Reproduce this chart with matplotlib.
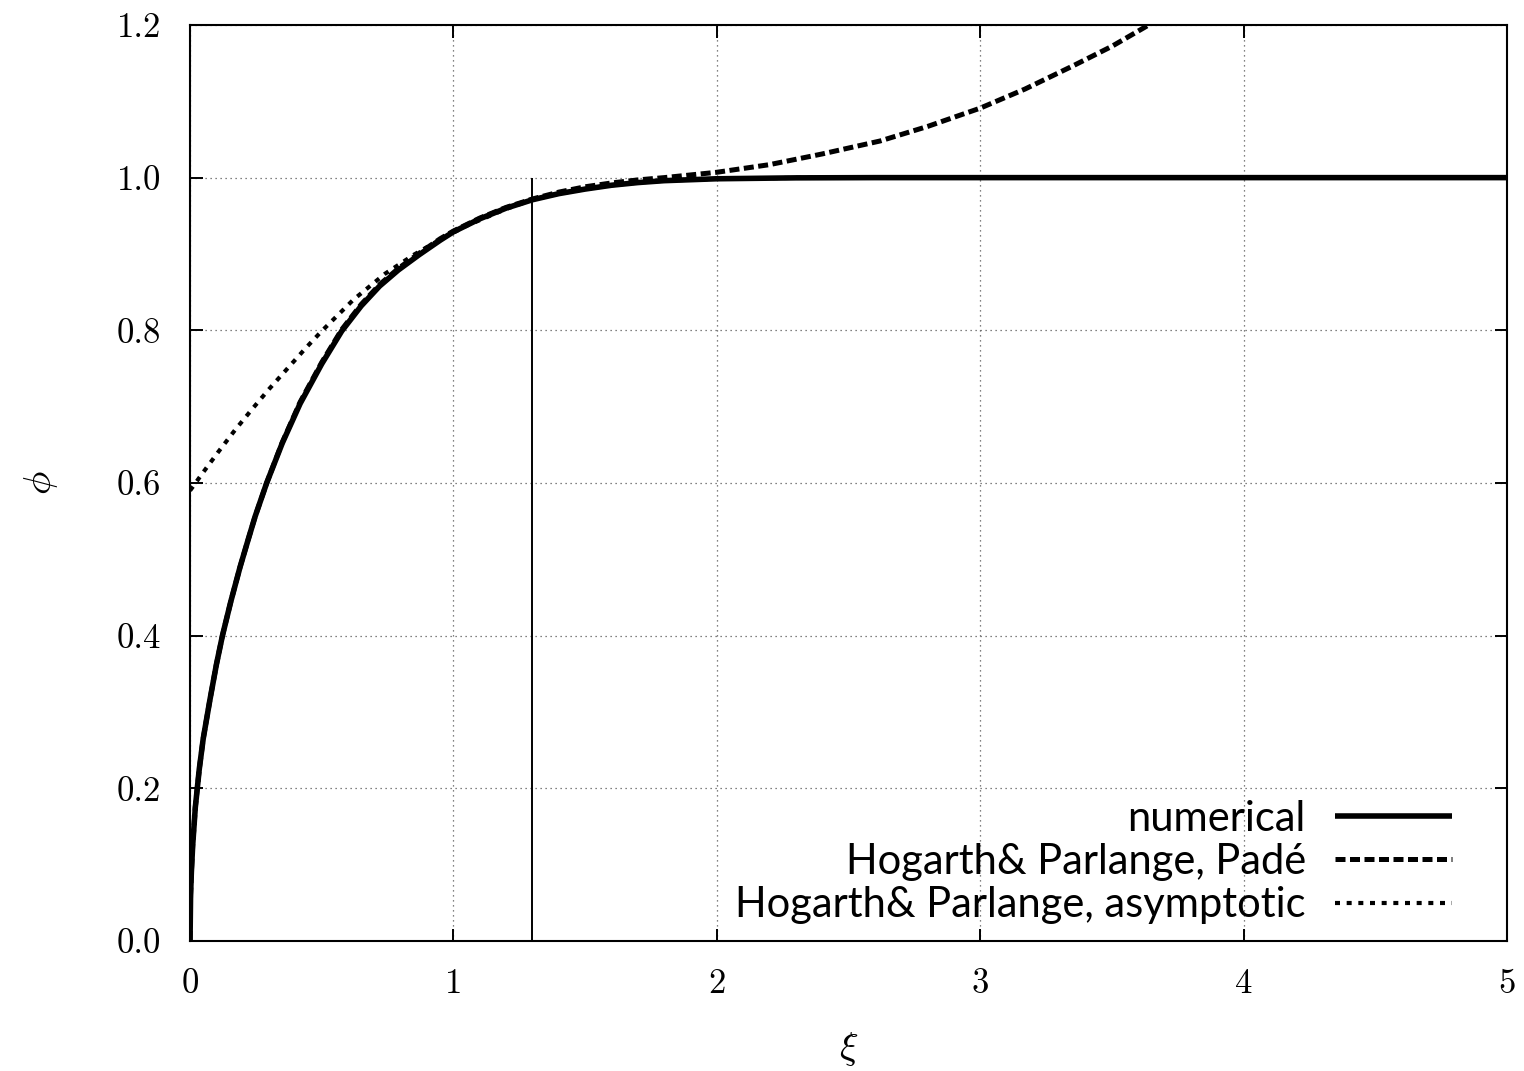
import matplotlib
matplotlib.use("Agg")
import matplotlib.pyplot as plt

# numerical solution
xi_num = [0.0, 0.002, 0.005, 0.01, 0.02, 0.035, 0.05, 0.075, 0.1, 0.123,
          0.155, 0.19, 0.22, 0.247, 0.291, 0.35, 0.418, 0.5, 0.576, 0.65,
          0.72, 0.791, 0.87, 0.95, 1.0, 1.1, 1.2, 1.3, 1.4, 1.5,
          1.6, 1.7, 1.8, 2.0, 2.3, 2.6, 5.0]
phi_num = [0.0, 0.06, 0.09, 0.125, 0.175, 0.225, 0.265, 0.315, 0.362, 0.4,
           0.445, 0.49, 0.525, 0.556, 0.6, 0.652, 0.704, 0.756, 0.799, 0.832,
           0.858, 0.879, 0.899, 0.918, 0.929, 0.946, 0.96, 0.971, 0.979, 0.985,
           0.99, 0.9935, 0.996, 0.9985, 0.9997, 1.0, 1.0]

# Hogarth & Parlange, Pade
xi_pade = [0.0, 0.002, 0.005, 0.01, 0.02, 0.035, 0.05, 0.075, 0.1, 0.123,
           0.155, 0.19, 0.22, 0.247, 0.291, 0.35, 0.418, 0.5, 0.576, 0.65,
           0.72, 0.791, 0.87, 0.95, 1.0, 1.1, 1.2, 1.3, 1.4, 1.5,
           1.6, 1.7, 1.8, 2.0, 2.2, 2.4, 2.62, 2.8, 3.0, 3.17,
           3.35, 3.5, 3.63, 3.66]
phi_pade = [0.0, 0.06, 0.09, 0.125, 0.175, 0.225, 0.265, 0.315, 0.362, 0.4,
            0.445, 0.49, 0.525, 0.556, 0.6, 0.653, 0.706, 0.758, 0.801, 0.834,
            0.86, 0.881, 0.901, 0.92, 0.93, 0.947, 0.961, 0.972, 0.981, 0.988,
            0.993, 0.997, 1.0, 1.007, 1.017, 1.031, 1.048, 1.067, 1.091, 1.116,
            1.146, 1.172, 1.198, 1.205]

# Hogarth & Parlange, asymptotic
xi_asym = [0.0, 0.05, 0.108, 0.17, 0.234, 0.3, 0.37, 0.44, 0.5, 0.62,
           0.74, 0.85, 0.95, 1.05, 1.2, 1.3, 1.4, 1.5, 1.6, 1.7,
           1.8, 2.0, 2.3, 2.6, 5.0]
phi_asym = [0.59, 0.614, 0.641, 0.669, 0.696, 0.723, 0.75, 0.777, 0.799, 0.84,
            0.874, 0.899, 0.919, 0.937, 0.959, 0.971, 0.979, 0.985, 0.99, 0.9935,
            0.996, 0.9985, 0.9997, 1.0, 1.0]

xi_front = 1.3
labels = ["numerical", "Hogarth& Parlange, Padé", "Hogarth& Parlange, asymptotic"]

plt.rcParams["mathtext.fontset"] = "cm"
plt.rcParams["font.family"] = "DejaVu Serif"

fig = plt.figure(figsize=(15.24, 10.71), dpi=100)
ax = fig.add_axes([0.1247, 0.1214, 0.8641, 0.8553])

ax.plot(xi_num, phi_num, color="black", lw=4.0, label=labels[0],
        solid_capstyle="butt", solid_joinstyle="round")
ax.plot(xi_pade, phi_pade, color="black", lw=3.6, dashes=(2.0, 0.9),
        label=labels[1])
ax.plot(xi_asym, phi_asym, color="black", lw=3.0, dashes=(1.2, 1.6),
        label=labels[2])
ax.vlines(xi_front, 0, 1.0, color="black", lw=1.4)

ax.set_xlim(0, 5)
ax.set_ylim(0, 1.2)
ax.set_xticks([0, 1, 2, 3, 4, 5])
ax.set_yticks([0.0, 0.2, 0.4, 0.6, 0.8, 1.0, 1.2])
ax.set_yticklabels(["0.0", "0.2", "0.4", "0.6", "0.8", "1.0", "1.2"])
ax.grid(True, color="0.35", lw=0.9, linestyle=(0, (1, 3)))
ax.tick_params(direction="in", length=9, width=1.4, top=True, right=True,
               labelsize=25, labelfontfamily="cmr10")
ax.tick_params(axis="x", pad=20)
ax.tick_params(axis="y", pad=21)
for s in ax.spines.values():
    s.set_linewidth(1.5)

ax.set_xlabel(r"$\xi$", fontsize=28, labelpad=21)
ax.set_ylabel(r"$\phi$", fontsize=28, labelpad=41, rotation=90)

leg = ax.legend(loc="lower right", bbox_to_anchor=(0.958, 0.018),
                frameon=False, markerfirst=False, prop={"family": "Lato", "size": 30},
                handlelength=2.8, handletextpad=0.7, labelspacing=0.13,
                borderpad=0, borderaxespad=0)

fig.savefig("out.png", dpi=100)
